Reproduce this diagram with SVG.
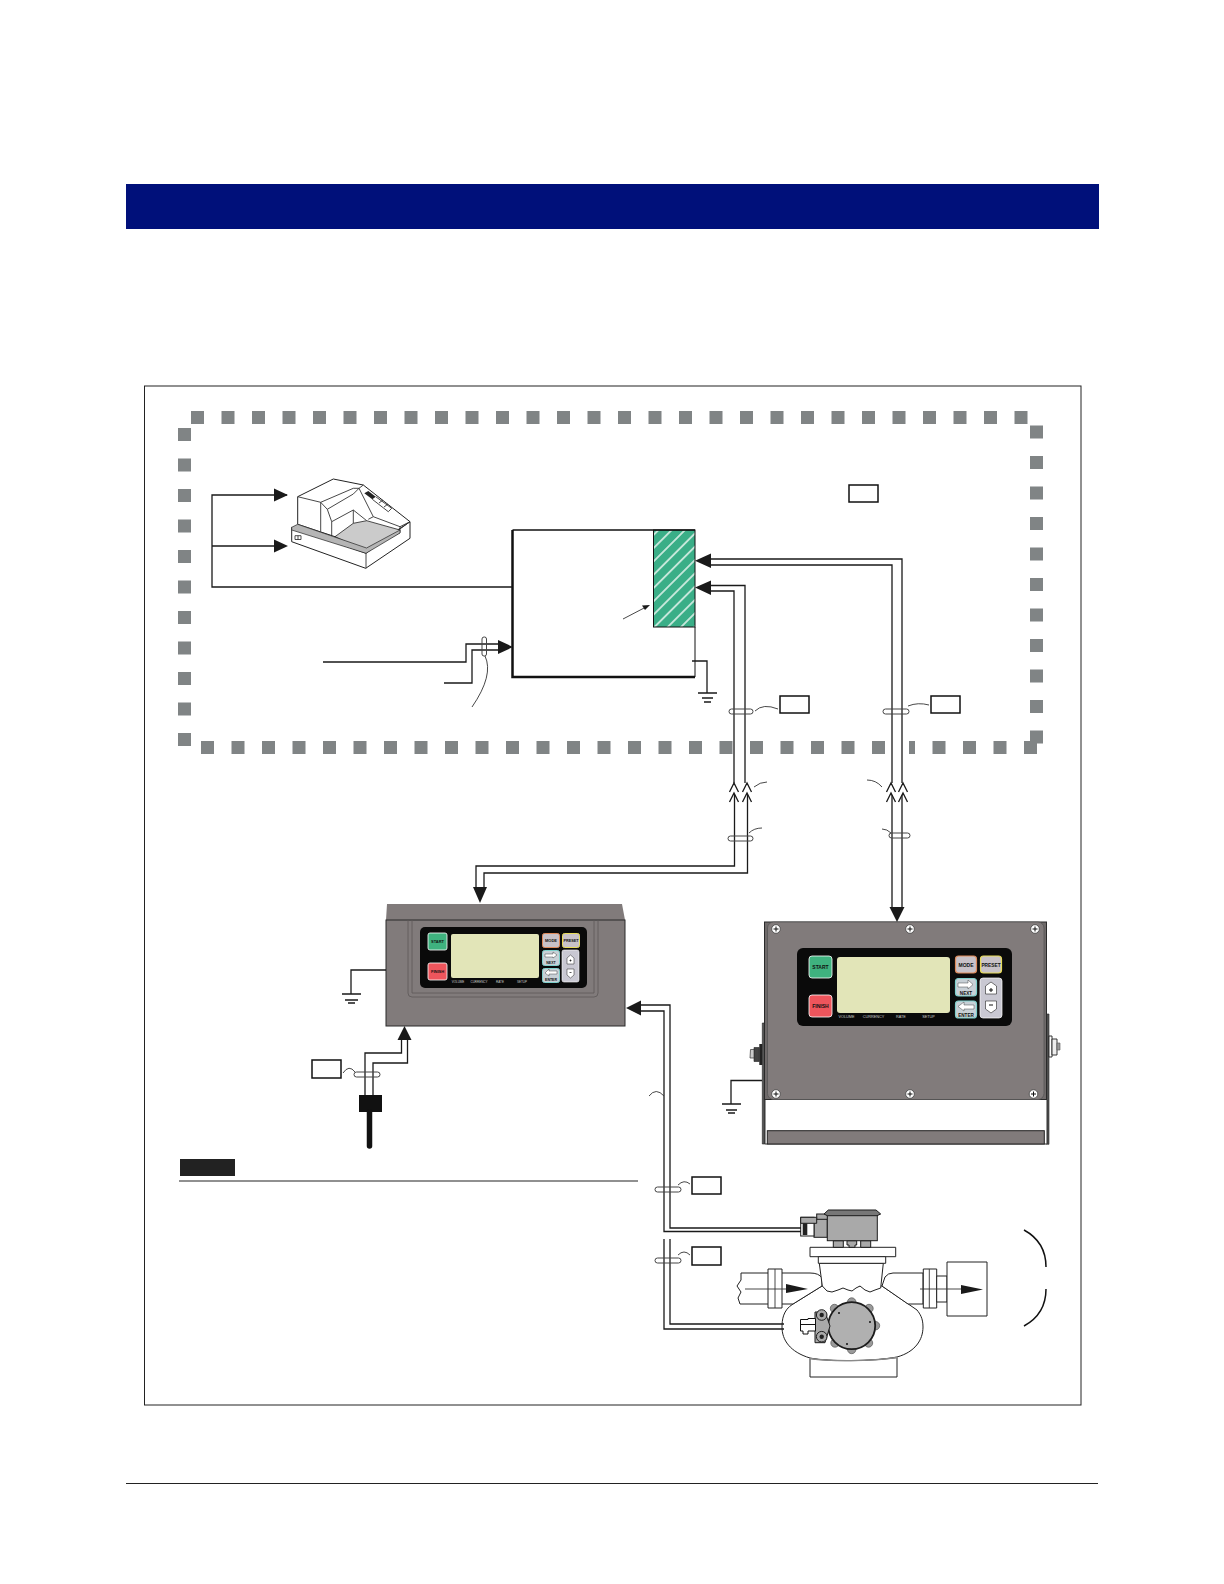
<svg xmlns="http://www.w3.org/2000/svg" width="1224" height="1584" viewBox="0 0 1224 1584">
<style>
.w{fill:none;stroke:#1a1a1a;stroke-width:1.3}
.t{fill:none;stroke:#333;stroke-width:.9}
.a{fill:#1a1a1a;stroke:none}
.b{fill:#fff;stroke:#111;stroke-width:1.5}
.clip{fill:#fff;fill-opacity:.01;stroke:#444;stroke-width:1}
.dash{fill:none;stroke:#808485;stroke-width:13;stroke-dasharray:13 17.5}
.p{fill:#fff;stroke:#222;stroke-width:1;stroke-linejoin:round}
.panel{fill:#817b7b;stroke:#2a2a2a;stroke-width:1}
.btn{stroke:#fff;stroke-width:.8}
.mk{font-family:"Liberation Sans",Arial,sans-serif;font-weight:700;fill:#111;text-anchor:middle}
.lb{font-family:"Liberation Sans",Arial,sans-serif;fill:#ccc;text-anchor:middle}
.m{fill:#a9a9a9;stroke:#1c1c1c;stroke-width:1}
.g{fill:none;stroke:#1a1a1a;stroke-width:1.6}
</style>
<defs>
<pattern id="hatch" width="9.4" height="16" patternUnits="userSpaceOnUse" patternTransform="rotate(45)">
<rect width="9.4" height="16" fill="#3aae87"/><rect x="3" width="1.5" height="16" fill="#e8f5ef"/>
</pattern>
</defs>
<rect width="1224" height="1584" fill="#fff"/>
<g id="header"><rect x="126" y="184" width="973" height="45" fill="#00107a"/></g>
<g id="footer"><rect x="126" y="1483" width="972" height="1" fill="#222"/></g>
<rect id="frame" x="144.5" y="386" width="936.5" height="1019" fill="none" stroke="#222" stroke-width="1"/>
<g id="hazard-boundary">
<path class="dash" d="M191 417.5H1028"/>
<path class="dash" d="M184.5 428V746"/>
<path class="dash" d="M1036.5 425.5V744.5"/>
<path class="dash" d="M201 747.5H885"/>
<rect x="909" y="741" width="6" height="13" fill="#808485"/>
<path class="dash" d="M932.5 747.5H1038"/>
</g>
<g id="printer">
<path class="p" d="M291.7 527.3V541.7L365.7 568.3L410 538.3V521.7L366 553.3Z"/>
<path class="p" d="M297.7 524.3V496.7L333.3 479L363.3 485L410 521.7L366 551L335 536.7Z"/>
<path d="M335 536.7L353.3 523.3L366.7 520.7L400 530V532.7L366 551Z" fill="#cbcbcb" stroke="#222" stroke-width=".8"/>
<path d="M291.7 527.3L297.7 524.3L366.5 548L400 530V533L366 553.3L291.7 530Z" fill="#b5b5b5" stroke="#222" stroke-width=".7"/>
<path class="t" d="M297.7 496.7L320.7 502.3V531.7M320.7 502.3L353.3 488.3H359L363.3 485M320.7 502.3L327.3 509.3L331.7 521.7V535M327.3 509.3L353.3 494L359 488.3M331.7 521.7L353.3 510L366.7 520.7M353.3 510V523.3M359 488.3L373.3 516.7L400 526.7V530M373.3 516.7L368.3 519.3M400 526.7L410 521.7M366 553.3V568.3M372.3 499.3L388.3 511.7M375.7 496.7L391.7 508.3L388.3 511.7M379 503L383 500M384 507L388 504"/>
<path d="M364.3 493.3L368.3 491L375.7 496.7L372.3 499.3Z" fill="#222"/>
<path d="M295 535.7H301V539.5H295ZM298 535.7V539.5" fill="none" stroke="#222" stroke-width=".8"/>
</g>
<g id="controller">
<rect x="653.5" y="530" width="41.5" height="97" fill="url(#hatch)" stroke="#111" stroke-width="1"/>
<path d="M695 530H512.5" fill="none" stroke="#111" stroke-width="1.3"/>
<path d="M512.5 530V677H695" fill="none" stroke="#111" stroke-width="2.5"/>
<path d="M695 627V677" fill="none" stroke="#111" stroke-width="1"/>
<path class="t" d="M623 619L646 607"/>
<path class="a" d="M650 605L642 605.5L645 610Z"/>
</g>
<g id="box-top"><rect class="b" x="849" y="485" width="29" height="17"/></g>
<g id="box-1"><rect class="b" x="780" y="696" width="29" height="17"/></g>
<g id="box-2"><rect class="b" x="931" y="696" width="29" height="17"/></g>
<g id="box-3"><rect class="b" x="312" y="1060" width="29" height="18" stroke-width="2"/></g>
<g id="box-4"><rect class="b" x="692" y="1177" width="29" height="17"/></g>
<g id="box-5"><rect class="b" x="692" y="1247" width="29" height="18"/></g>
<g id="panel-a">
<path d="M386 920L387 904H622L625 920Z" fill="#817b7b"/>
<rect class="panel" x="386" y="920" width="239" height="106"/>
<path d="M408 920V993Q408 997 412 997H594Q598 997 598 993V920M412 920V993H594V920" fill="none" stroke="#5d5858" stroke-width=".8"/>
<rect x="420" y="927" width="167" height="61" rx="5" fill="#0a0a0a"/>
<rect class="btn" x="428" y="933" width="19" height="17" rx="2" fill="#3fb27f"/>
<rect class="btn" x="428" y="963" width="19" height="17" rx="2" fill="#ee555c"/>
<rect x="451" y="934" width="88" height="44" rx="2" fill="#e2e5b8"/>
<rect x="542.5" y="933.5" width="17" height="14" rx="2" fill="#c8c2c8" stroke="#e08b5b" stroke-width="1"/>
<rect x="562.5" y="933.5" width="17" height="14" rx="2" fill="#c8c2c8" stroke="#e8dc5a" stroke-width="1"/>
<rect x="542.5" y="950.5" width="17" height="15" rx="2" fill="#c8d0d6" stroke="#7fd0cc" stroke-width="1"/>
<rect x="542.5" y="968.5" width="17" height="14" rx="2" fill="#c8d0d6" stroke="#7fd0cc" stroke-width="1"/>
<rect x="562" y="950" width="17" height="32" rx="2" fill="#c9c8d2" stroke="#fff" stroke-width=".6"/>
<path d="M545 954H553V952L557 955L553 958V957H545Z" fill="#fff" stroke="#222" stroke-width=".4"/>
<path d="M557 971H549V969L545 973L549 976V974H557Z" fill="#fff" stroke="#222" stroke-width=".4"/>
<path d="M567 958L570.5 955L574 958V964H567ZM567 969H574V975L570.5 978L567 975Z" fill="#fff" stroke="#222" stroke-width=".5"/>
<path d="M569.5 960.5H571.5M570.5 959.5V961.5M569.5 972.5H571.5" stroke="#111" stroke-width=".7" fill="none"/>
<text class="mk" x="437.5" y="943" font-size="4">START</text>
<text class="mk" x="437.5" y="973" font-size="4">FINISH</text>
<text class="mk" x="551" y="942" font-size="4">MODE</text>
<text class="mk" x="571" y="942" font-size="3.8">PRESET</text>
<text class="mk" x="551" y="963.5" font-size="3.5">NEXT</text>
<text class="mk" x="551" y="980.5" font-size="3.5">ENTER</text>
<text class="lb" x="458" y="982.5" font-size="3">VOLUME</text>
<text class="lb" x="479" y="982.5" font-size="3">CURRENCY</text>
<text class="lb" x="500" y="982.5" font-size="3">RATE</text>
<text class="lb" x="522" y="982.5" font-size="3">SETUP</text>
</g>
<g id="panel-b">
<path d="M762.3 1023H765V1144H762.3ZM1046.7 1014H1049V1144.3H1046.7Z" fill="#555" stroke="#222" stroke-width=".6"/>
<path d="M765 1100V1144H1047V1100" fill="#fff" stroke="#333" stroke-width="1"/>
<rect x="767.3" y="1130.7" width="277" height="13.3" fill="#817b7b" stroke="#222" stroke-width="1"/>
<rect x="764.5" y="922" width="282" height="177.5" fill="#6f6a6a" stroke="#2a2a2a" stroke-width="1"/>
<rect x="767.5" y="922" width="276.5" height="177.5" rx="6" fill="#817b7b" stroke="#555" stroke-width=".8"/>
<rect x="759.3" y="1044" width="3" height="21" fill="#222"/>
<path d="M759.3 1047.5H754V1061.5H759.3Z" fill="#444" stroke="#222" stroke-width=".6"/>
<path d="M754 1049.5H750.5L750 1058H754Z" fill="#ccc" stroke="#333" stroke-width=".7"/>
<path d="M1049 1036H1052V1057H1049Z" fill="#fff" stroke="#222" stroke-width=".9"/>
<path d="M1052 1039H1057V1055H1052Z" fill="#eee" stroke="#222" stroke-width=".9"/>
<path d="M1057 1043H1060V1050H1057Z" fill="#999" stroke="#555" stroke-width=".6"/>
<rect x="797" y="948" width="215" height="78" rx="6" fill="#0a0a0a"/>
<rect class="btn" x="809" y="956" width="23" height="22" rx="3" fill="#3fb27f"/>
<rect class="btn" x="809" y="995" width="23" height="22" rx="3" fill="#ee555c"/>
<rect x="837" y="957" width="113" height="56" rx="3" fill="#e2e5b8"/>
<rect x="955.5" y="956" width="21" height="17" rx="3" fill="#c8c2c8" stroke="#e08b5b" stroke-width="1.2"/>
<rect x="980.5" y="956" width="21" height="17" rx="3" fill="#c8c2c8" stroke="#e8dc5a" stroke-width="1.2"/>
<rect x="955.5" y="978.5" width="21" height="17.5" rx="3" fill="#c8d0d6" stroke="#7fd0cc" stroke-width="1.2"/>
<rect x="955.5" y="1001" width="21" height="17" rx="3" fill="#c8d0d6" stroke="#7fd0cc" stroke-width="1.2"/>
<rect x="980" y="978" width="22" height="40" rx="3" fill="#c9c8d2" stroke="#fff" stroke-width=".7"/>
<path d="M958 983H968V980L973 984.5L968 989V987H958Z" fill="#fff" stroke="#222" stroke-width=".4"/>
<path d="M974 1005H964V1002L958 1006.5L964 1011V1009H974Z" fill="#fff" stroke="#222" stroke-width=".4"/>
<path d="M985.5 986L991 982L996.5 986V994H985.5ZM985.5 1001H996.5V1009L991 1013L985.5 1009Z" fill="#fff" stroke="#222" stroke-width=".6"/>
<path d="M989 990H993M991 988V992M989 1005H993" stroke="#111" fill="none"/>
<text class="mk" x="820.5" y="968.5" font-size="5">START</text>
<text class="mk" x="820.5" y="1007.5" font-size="5">FINISH</text>
<text class="mk" x="966" y="966.5" font-size="5">MODE</text>
<text class="mk" x="991" y="966.5" font-size="4.8">PRESET</text>
<text class="mk" x="966" y="994.5" font-size="4.6">NEXT</text>
<text class="mk" x="966" y="1016.5" font-size="4.6">ENTER</text>
<text class="lb" x="846.5" y="1017.5" font-size="3.8">VOLUME</text>
<text class="lb" x="873.5" y="1017.5" font-size="3.8">CURRENCY</text>
<text class="lb" x="901" y="1017.5" font-size="3.8">RATE</text>
<text class="lb" x="928.5" y="1017.5" font-size="3.8">SETUP</text>
<g fill="#fff" stroke="#444" stroke-width=".8">
<circle cx="776" cy="929" r="4.3"/><circle cx="910" cy="929" r="4.3"/><circle cx="1035" cy="929" r="4.3"/>
<circle cx="776" cy="1094" r="4.3"/><circle cx="910" cy="1094" r="4.3"/><circle cx="1033.5" cy="1094" r="4.3"/>
</g>
<path d="M773.5 929H778.5M776 926.5V931.5M907.5 929H912.5M910 926.5V931.5M1032.5 929H1037.5M1035 926.5V931.5M773.5 1094H778.5M776 1091.5V1096.5M907.5 1094H912.5M910 1091.5V1096.5M1031 1094H1036M1033.5 1091.5V1096.5" stroke="#111" stroke-width="1" fill="none"/>
</g>
<g id="sensor">
<rect x="359" y="1095" width="23" height="17" fill="#111"/>
<path d="M369.5 1112V1146" stroke="#111" stroke-width="5.5" stroke-linecap="round" fill="none"/>
</g>
<g id="meter">
<path class="p" d="M793 1304C783 1310 782 1320 782 1327C782 1340 790 1352 810 1358C830 1362 870 1362 897 1357C915 1352 923 1340 923 1327C923 1318 920 1314 917 1310L882 1286L822 1286Z"/>
<path class="p" d="M810 1358.5C830 1361.5 870 1361.5 897 1357.5V1377H810Z"/>
<path d="M810 1358.5C830 1361.5 870 1361.5 897 1357.5" fill="none" stroke="#8a8a8a" stroke-width="1.3"/>
<path class="p" d="M741 1273H810Q819 1273 822 1278V1286L793 1304H740L738 1298L741 1292L737 1286L741 1280Z"/>
<path class="p" d="M885 1277Q888 1273 893 1273H923V1304H908L882 1286Z"/>
<rect class="p" x="768" y="1269" width="14" height="39"/><path class="t" d="M775 1269V1308"/>
<rect class="p" x="923.3" y="1269" width="13.4" height="39"/><path class="t" d="M929.3 1269V1308"/>
<rect class="p" x="936.7" y="1276" width="10.3" height="26"/>
<rect class="p" x="947" y="1262" width="40" height="54"/>
<path class="t" d="M745 1289H788M920 1289H963"/>
<path class="a" d="M786 1284L808 1289L786 1293Z"/>
<path class="a" d="M961 1285L983 1289.5L961 1294Z"/>
<path class="p" d="M819.3 1263.3L822.3 1286L827 1291L832 1292L838 1290L843 1288L848 1290L852 1291L856 1288L860 1286L865 1290L870 1292L875 1290L880.7 1288L883.3 1263.3Z"/>
<rect class="p" x="810" y="1247.3" width="85.7" height="9.4"/>
<rect class="p" x="818.3" y="1256.7" width="67.4" height="6.6"/>
<path class="m" d="M833.3 1240.7H843.3V1247.3H833.3ZM860.7 1240.7H870.7V1247.3H860.7Z"/>
<path class="m" d="M847 1240.7H856.7V1245H855V1247.3H849V1245H847Z"/>
<rect class="m" x="816.7" y="1214" width="11" height="6"/>
<rect class="m" x="814" y="1219.3" width="13.3" height="18"/>
<rect x="800.7" y="1217.3" width="13.3" height="18.7" fill="#fff" stroke="#1c1c1c" stroke-width="1"/>
<path class="m" d="M800.7 1217.3H816.7V1223.3H800.7Z"/>
<rect x="802.7" y="1223.3" width="4.6" height="11.7" fill="#222"/>
<rect class="m" x="827.3" y="1214" width="50" height="26.7"/>
<path d="M824 1214L828.3 1210H876L880.7 1214L877 1215.7H827.3Z" fill="#777" stroke="#1c1c1c" stroke-width="1"/>
<g fill="#9a9a9a" stroke="#555" stroke-width=".7">
<circle cx="851.7" cy="1302" r="4.2"/><circle cx="869" cy="1308.5" r="4.2"/><circle cx="875.5" cy="1325.7" r="4.2"/><circle cx="868.5" cy="1343" r="4.2"/><circle cx="851.7" cy="1349.5" r="4.2"/><circle cx="835" cy="1343" r="4.2"/><circle cx="834.5" cy="1308.5" r="4.2"/>
</g>
<circle cx="851.7" cy="1325.7" r="23.5" fill="#b0b0b0" stroke="#1c1c1c" stroke-width="1.8"/>
<circle cx="839" cy="1313" r="1" fill="#111"/><circle cx="870" cy="1322" r="1" fill="#111"/><circle cx="847" cy="1344" r="1" fill="#111"/>
<path class="m" d="M815 1312H825L830 1326L825 1342.7H815Z"/>
<path d="M800.5 1319.5H808V1318.5H815.5V1331H808V1334H803V1331H800.5Z" fill="#fff" stroke="#111" stroke-width="1"/>
<path d="M800.5 1324.5H815.5" stroke="#111" stroke-width="1" fill="none"/>
<circle class="m" cx="821.7" cy="1315" r="5.3"/><circle class="m" cx="821.7" cy="1336.7" r="5.3"/>
<circle cx="821.7" cy="1315" r="2.2" fill="#222"/><circle cx="821.7" cy="1336.7" r="2.2" fill="#222"/>
<path d="M1024 1230Q1046 1242 1046 1267M1046 1289Q1046 1314 1024 1326" fill="none" stroke="#111" stroke-width="1.5"/>
</g>
<g id="note">
<rect x="180" y="1159" width="55" height="17" fill="#222"/>
<rect x="179" y="1180.5" width="459" height="1" fill="#222"/>
</g>
<g id="connectors">
<path class="w" d="M287 495H212V587H512M212 546H275"/>
<path class="a" d="M288 495L274 488.5V501.5ZM288 546L274 539.5V552.5Z"/>
<path class="w" d="M323 662H466V644H499M444 683H472V650H499"/>
<path class="a" d="M513 647L498 640V654Z"/>
<rect class="clip" x="482" y="637" width="4.5" height="19" rx="2"/>
<path class="t" d="M485 656Q494 675 472 707"/>
<path class="w" d="M692 661H707V693"/>
<path class="g" d="M698 693H717M702 698H713M704 702H711" stroke-width="2"/>
<path class="w" d="M710 559H902V783M710 565H892V783M710 585.5H745V783M710 591H734V783"/>
<path class="a" d="M695 560.7L711 553.5V568ZM695 587.5L711 580.5V595Z"/>
<path class="w" d="M734.5 795V866H476V888M747.5 795V873H484V888"/>
<path class="a" d="M480 903L473 887H487Z"/>
<path class="w" d="M892 795V908M902 795V908"/>
<path class="a" d="M897 922L889.5 907H904.5Z"/>
<path class="w" fill="none" stroke-width="1.8" d="M729.5 792L734 783L738.5 792M729.5 802L734 793L738.5 802M742.5 792L747 783L751.5 792M742.5 802L747 793L751.5 802M886.5 792L891 783L895.5 792M886.5 802L891 793L895.5 802M898.5 792L903 783L907.5 792M898.5 802L903 793L907.5 802"/>
<rect class="clip" x="729" y="709" width="24" height="5" rx="2.5"/>
<rect class="clip" x="883" y="709" width="26" height="5" rx="2.5"/>
<rect class="clip" x="728" y="836" width="25" height="5" rx="2.5"/>
<rect class="clip" x="889" y="833" width="21" height="5" rx="2.5"/>
<path class="t" d="M755 711Q763 703 778 709M908 706Q918 702 929 705M754 787Q760 782 767 782M882 787Q876 780 867 780M749 833Q754 828 762 828M882 829Q887 829 891 833"/>
<path class="w" d="M640 1005H670V1228H801M640 1011H664V1231.5H801"/>
<path class="a" d="M626 1008L641 1000.5V1015.5Z"/>
<path class="w" d="M664 1239V1329H784M670 1239V1324H784"/>
<rect class="clip" x="655" y="1187" width="26" height="5" rx="2.5"/>
<rect class="clip" x="655" y="1258" width="26" height="5" rx="2.5"/>
<path class="t" d="M678 1185Q684 1179 690 1184M678 1255Q684 1249 690 1255M649 1096Q656 1087 664 1096"/>
<path class="w" d="M386 970H351V994"/>
<path class="g" d="M342 994H361M345 1000H358M348 1003H355"/>
<path class="w" d="M365 1095V1053H401.5V1040M373 1095V1063H407.5V1040"/>
<path class="a" d="M404.5 1026L397.5 1040H411.5Z"/>
<rect class="clip" x="354" y="1072" width="26" height="5" rx="2.5"/>
<path class="t" d="M343 1073Q349 1064 355 1072"/>
<path class="w" d="M762 1080.5H731V1104"/>
<path class="g" d="M722 1104H741M726 1110H737M728 1113H735"/>
</g>
</svg>
